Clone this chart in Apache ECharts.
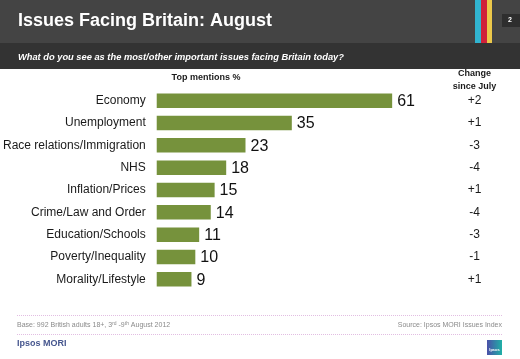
<!DOCTYPE html>
<html><head><meta charset="utf-8">
<script src="https://cdn.jsdelivr.net/npm/echarts@6/dist/echarts.min.js"></script>
<style>html,body{margin:0;padding:0;background:#fff}#c{width:520px;height:359px}</style>
</head><body><div id="c"></div>
<script>
var categories = ['Economy','Unemployment','Race relations/Immigration','NHS','Inflation/Prices','Crime/Law and Order','Education/Schools','Poverty/Inequality','Morality/Lifestyle'];
var values = [61,35,23,18,15,14,11,10,9];
var changes = ['+2','+1','-3','-4','+1','-4','-3','-1','+1'];

var chart = echarts.init(document.getElementById('c'), null, {renderer:'canvas'});
var F = '"Liberation Sans", Arial, sans-serif';
chart.setOption({
  animation:false,
  backgroundColor:'#ffffff',
  grid:{left:156, top:89.5, width:309.5, height:201, containLabel:false},
  xAxis:{type:'value', min:0, max:80, show:false},
  yAxis:[{
    type:'category', data:categories, inverse:true,
    axisLine:{show:false}, axisTick:{show:false}, splitLine:{show:false},
    axisLabel:{margin:11, fontFamily:F, fontSize:12, color:'#1a1a1a'}
  },{
    type:'category', data:changes, inverse:true, position:'right',
    axisLine:{show:false}, axisTick:{show:false}, splitLine:{show:false},
    axisLabel:{margin:9, align:'center', fontFamily:F, fontSize:12, color:'#1a1a1a', padding:[2,0,0,0]}
  }],
  series:[{
    type:'bar', data:values, barWidth:14.5, yAxisIndex:0,
    itemStyle:{color:'#76923c'},
    label:{show:true, position:'right', distance:5, fontFamily:F, fontSize:16, color:'#111', offset:[0,1]}
  }],
  graphic:[
    {type:'rect', shape:{x:0,y:0,width:520,height:43}, style:{fill:'#444444'}, silent:true},
    {type:'rect', shape:{x:0,y:43,width:520,height:26}, style:{fill:'#333333'}, silent:true},
    {type:'rect', shape:{x:475,y:0,width:6,height:43}, style:{fill:'#31b4d0'}},
    {type:'rect', shape:{x:481,y:0,width:6,height:43}, style:{fill:'#d0203a'}},
    {type:'rect', shape:{x:487,y:0,width:5,height:43}, style:{fill:'#ecc84a'}},
    {type:'rect', shape:{x:502,y:14,width:18,height:13}, style:{fill:'#2e2e2e'}},
    {type:'text', x:508, y:20.5, style:{text:'2', fill:'#fff', font:'bold 7px '+F, textVerticalAlign:'middle'}},
    {type:'text', x:18, y:21, style:{text:'Issues Facing Britain: August', fill:'#ffffff', font:'bold 18px '+F, textVerticalAlign:'middle'}},
    {type:'text', x:18, y:57, style:{text:'What do you see as the most/other important issues facing Britain today?', fill:'#ffffff', font:'italic bold 9.3px '+F, textVerticalAlign:'middle'}},
    {type:'text', x:206, y:78, style:{text:'Top mentions %', fill:'#1a1a1a', font:'bold 9px '+F, textAlign:'center', textVerticalAlign:'middle'}},
    {type:'text', x:474.5, y:74, style:{text:'Change', fill:'#1a1a1a', font:'bold 9px '+F, textAlign:'center', textVerticalAlign:'middle'}},
    {type:'text', x:474.5, y:87, style:{text:'since July', fill:'#1a1a1a', font:'bold 9px '+F, textAlign:'center', textVerticalAlign:'middle'}},
    {type:'line', shape:{x1:17,y1:315.5,x2:503,y2:315.5}, style:{stroke:'#e2bde2', lineWidth:1, lineDash:[1,1]}},
    {type:'line', shape:{x1:17,y1:334.5,x2:503,y2:334.5}, style:{stroke:'#e2bde2', lineWidth:1, lineDash:[1,1]}},
    {type:'text', x:17, y:325, style:{rich:{n:{fill:'#8a8a8a', font:'7px '+F}, s:{fill:'#8a8a8a', font:'5px '+F, verticalAlign:'top', padding:[0,0,3,0]}}, text:'{n|Base: 992 British adults 18+, 3}{s|rd}{n| -9}{s|th}{n| August 2012}', textVerticalAlign:'middle'}},
    {type:'text', x:502, y:325, style:{text:'Source: Ipsos MORI Issues Index', fill:'#8a8a8a', font:'7px '+F, textAlign:'right', textVerticalAlign:'middle'}},
    {type:'text', x:17, y:344, style:{text:'Ipsos MORI', fill:'#46568e', font:'bold 9px '+F, textVerticalAlign:'middle'}},
    {type:'rect', shape:{x:487,y:340,width:15,height:15}, style:{fill:{type:'linear',x:0,y:0,x2:1,y2:0,colorStops:[{offset:0,color:'#4b4fa8'},{offset:1,color:'#1fb0a6'}]}}},
    {type:'text', x:494.5, y:350, style:{text:'Ipsos', fill:'#ffffff', font:'bold 4px '+F, textAlign:'center', textVerticalAlign:'middle'}}
  ]
});
</script></body></html>
